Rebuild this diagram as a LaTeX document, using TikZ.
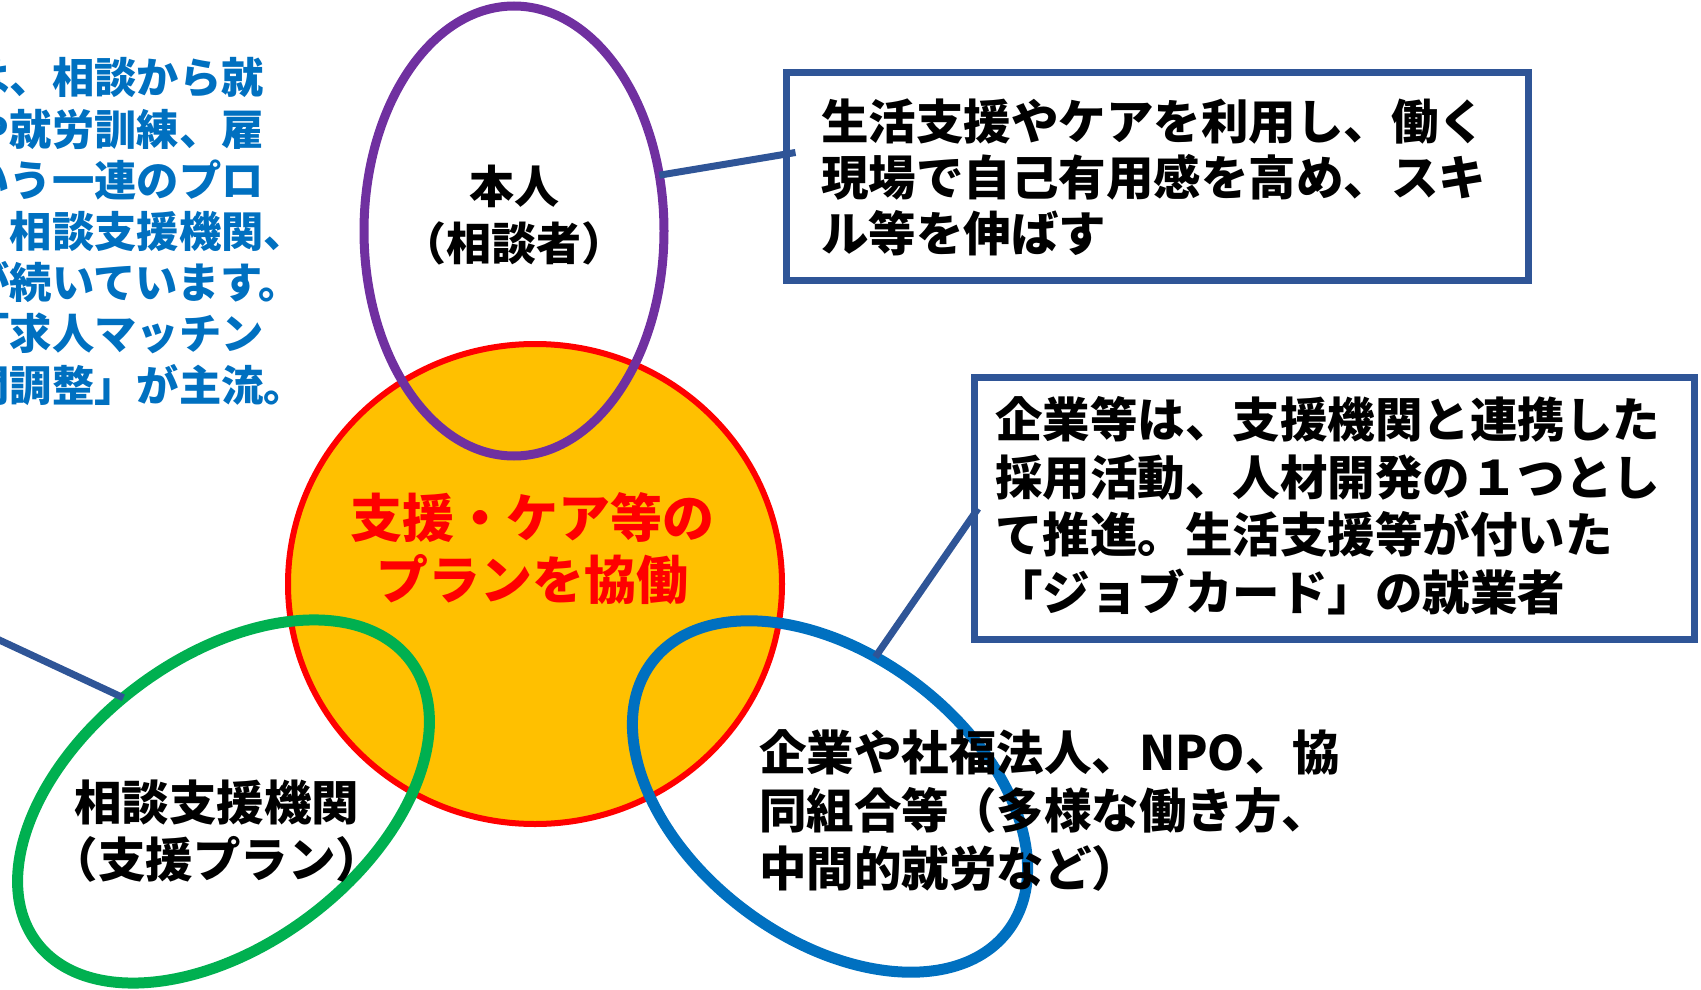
\documentclass[tikz,border=0pt]{standalone}
\usepackage{fontspec}
\newfontfamily\jp{Noto Sans CJK JP}
\usetikzlibrary{shapes.geometric}
\definecolor{cpurple}{HTML}{7030A0}
\definecolor{corange}{HTML}{FFC000}
\definecolor{cred}{HTML}{FF0000}
\definecolor{cgreen}{HTML}{00B050}
\definecolor{cblue}{HTML}{0070C0}
\definecolor{cbox}{HTML}{2F5597}
\begin{document}
\begin{tikzpicture}[x=1pt,y=-1pt,
  ring/.style={ellipse, inner sep=0pt, outer sep=0pt},
  conn/.style={draw=cbox, line width=7pt},
  boxstyle/.style={draw=cbox, line width=7pt, fill=white, inner sep=0pt, outer sep=0pt},
  txt/.style={inner sep=0pt, outer sep=0pt, text=black}
]
\useasboundingbox (0,0) rectangle (1701,990);
% left blue text (cut off by the page edge, as in the reference)
\node[txt, anchor=west, align=left, text=cblue, font=\jp\bfseries\fontsize{42.3}{51.2}\selectfont] (lefttext) at (-32.3,231.5)
  {は、相談から就\\や就労訓練、雇\\いう一連のプロ\\、相談支援機関、\\が続いています。\\「求人マッチン\\間調整」が主流。};
% central circle
\node[ring, draw=cred, fill=corange, line width=6pt, minimum width=494pt, minimum height=480pt] (center) at (535,584) {};
% ellipses
\node[ring, draw=cpurple, line width=9pt, minimum width=300pt, minimum height=450pt] (purple) at (514,231) {};
\node[ring, draw=cgreen, line width=11pt, minimum width=468pt, minimum height=287pt, rotate=37] (green) at (223.5,801.5) {};
\node[ring, draw=cblue, line width=11pt, minimum width=446pt, minimum height=284pt, rotate=-37] (blue) at (830,796.5) {};
% boxes
\node[boxstyle, minimum width=742pt, minimum height=208pt] (box1) at (1157.5,176.5) {};
\node[boxstyle, minimum width=720pt, minimum height=262pt] (box2) at (1334,508.5) {};
% connectors
\coordinate (lstart) at (-5,638);
\draw[conn] (purple.21) -- ([xshift=9pt,yshift=24pt]box1.west);
\draw[conn] (blue.109) -- ([xshift=4pt]box2.west);
\draw[conn] (lstart) -- (green.97);
% texts
\node[txt, align=center, font=\jp\bfseries\fontsize{45}{57}\selectfont] (tpurple) at (514,215) {本人\\（相談者）};
\node[txt, align=center, text=cred, font=\jp\bfseries\fontsize{52}{62}\selectfont] (tcenter) at (532,549) {支援・ケア等の\\プランを協働};
\node[txt, align=center, font=\jp\bfseries\fontsize{47.5}{57}\selectfont] (tgreen) at (217,831) {相談支援機関\\（支援プラン）};
\node[txt, anchor=west, align=left, font=\jp\bfseries\fontsize{47.5}{58}\selectfont] (tblue) at (759,810) {企業や社福法人、NPO、協\\同組合等（多様な働き方、\\中間的就労など）};
\node[txt, anchor=west, align=left, font=\jp\bfseries\fontsize{47.5}{56}\selectfont] (tbox1) at (821,177) {生活支援やケアを利用し、働く\\現場で自己有用感を高め、スキ\\ル等を伸ばす};
\node[txt, anchor=west, align=left, font=\jp\bfseries\fontsize{47.5}{57.5}\selectfont] (tbox2) at (995,506) {企業等は、支援機関と連携した\\採用活動、人材開発の１つとし\\て推進。生活支援等が付いた\\「ジョブカード」の就業者};
\end{tikzpicture}
\end{document}
